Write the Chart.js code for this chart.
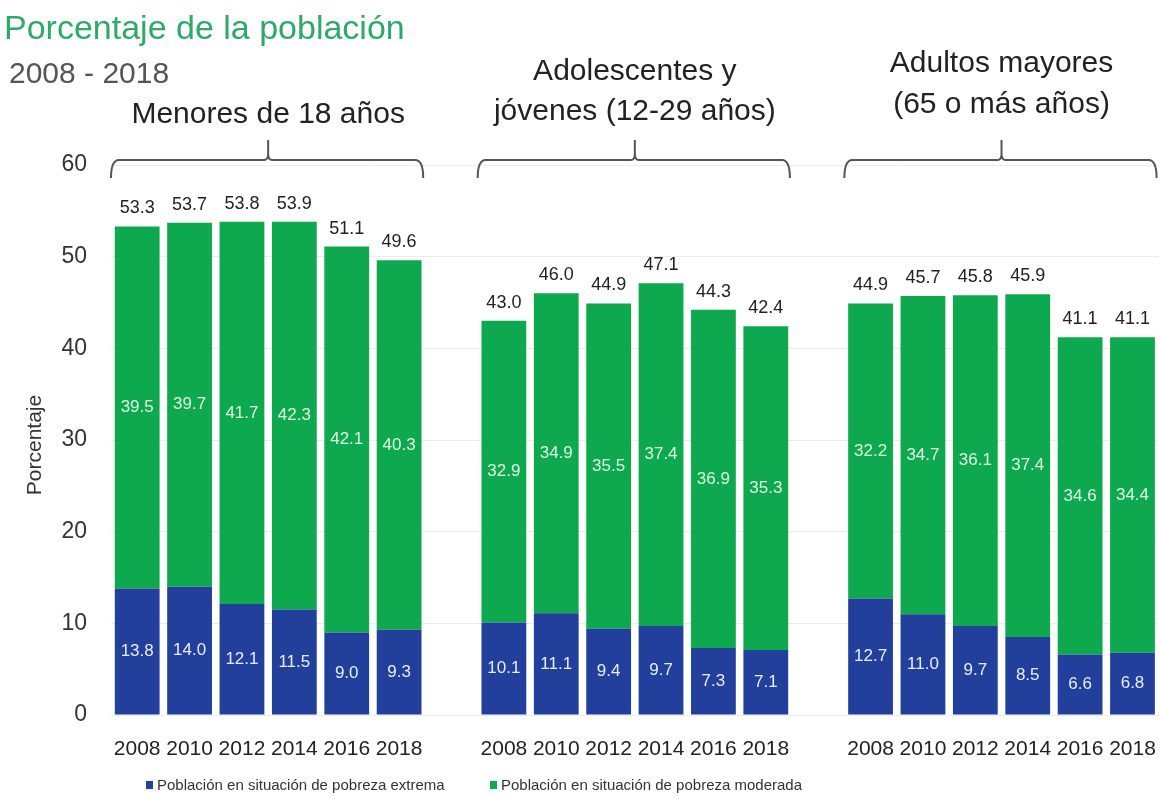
<!DOCTYPE html>
<html>
<head>
<meta charset="utf-8">
<script src="https://cdn.jsdelivr.net/npm/chart.js@4/dist/chart.umd.min.js"></script>
<style>
  html, body { margin: 0; padding: 0; background: #fff; overflow: hidden; }
  #wrap { width: 1170px; height: 799px; }
</style>
</head>
<body>
<div id="wrap"><canvas id="grafica" width="1170" height="799"></canvas></div>
<script>
// Datos
const anios = ['2008', '2010', '2012', '2014', '2016', '2018', '',
               '2008', '2010', '2012', '2014', '2016', '2018', '',
               '2008', '2010', '2012', '2014', '2016', '2018'];
const pobrezaExtrema = [13.8, 14.0, 12.1, 11.5, 9.0, 9.3, null,
                        10.1, 11.1, 9.4, 9.7, 7.3, 7.1, null,
                        12.7, 11.0, 9.7, 8.5, 6.6, 6.8];
const pobrezaModerada = [39.5, 39.7, 41.7, 42.3, 42.1, 40.3, null,
                         32.9, 34.9, 35.5, 37.4, 36.9, 35.3, null,
                         32.2, 34.7, 36.1, 37.4, 34.6, 34.4];
const totales = [53.3, 53.7, 53.8, 53.9, 51.1, 49.6, null,
                 43.0, 46.0, 44.9, 47.1, 44.3, 42.4, null,
                 44.9, 45.7, 45.8, 45.9, 41.1, 41.1];
const grupos = [
    { lineas: ['Menores de 18 años'], desde: 0, hasta: 5 },
    { lineas: ['Adolescentes y', 'jóvenes (12-29 años)'], desde: 7, hasta: 12 },
    { lineas: ['Adultos mayores', '(65 o más años)'], desde: 14, hasta: 19 }
];
const ticksY = [0, 10, 20, 30, 40, 50, 60];
const leyenda = ['Población en situación de pobreza extrema', 'Población en situación de pobreza moderada'];

const AZUL = '#22409b';
const VERDE = '#0ea84f';
const FUENTE = '"Liberation Sans", Arial, sans-serif';

function fmt(v) { return v.toFixed(1); }

function llave(ctx, x1, x2, xm, y) {
    ctx.beginPath();
    ctx.moveTo(x1, y + 18);
    ctx.quadraticCurveTo(x1, y, x1 + 8, y);
    ctx.lineTo(xm - 4, y);
    ctx.quadraticCurveTo(xm, y, xm, y - 6);
    ctx.lineTo(xm, y - 20);
    ctx.moveTo(xm, y - 6);
    ctx.quadraticCurveTo(xm, y, xm + 4, y);
    ctx.lineTo(x2 - 8, y);
    ctx.quadraticCurveTo(x2, y, x2, y + 18);
    ctx.stroke();
}

const anotaciones = {
    id: 'anotaciones',
    afterDraw(chart) {
        const ctx = chart.ctx;
        const x = chart.scales.x;
        const paso = x.getPixelForValue(1) - x.getPixelForValue(0);
        ctx.save();

        // Titulo
        ctx.textAlign = 'left';
        ctx.textBaseline = 'alphabetic';
        ctx.fillStyle = '#2fa86a';
        ctx.font = '34px ' + FUENTE;
        ctx.fillText('Porcentaje de la población', 4, 39);
        ctx.fillStyle = '#555';
        ctx.font = '30px ' + FUENTE;
        ctx.fillText('2008 - 2018', 9, 83);

        // Grupos: llaves y nombres
        const baseLineas = [[123], [80, 120], [72, 113]];
        grupos.forEach((g, i) => {
            const x1 = x.getPixelForValue(g.desde) - paso * 0.5;
            const x2 = x.getPixelForValue(g.hasta) + paso * 0.46;
            const xm = (x.getPixelForValue(g.desde) + x.getPixelForValue(g.hasta)) / 2;
            ctx.strokeStyle = '#555';
            ctx.lineWidth = 2;
            llave(ctx, x1, x2, xm, 160);
            ctx.fillStyle = '#222';
            ctx.font = '30px ' + FUENTE;
            ctx.textAlign = 'center';
            g.lineas.forEach((t, j) => ctx.fillText(t, xm, baseLineas[i][j]));
        });

        // Etiquetas de valores
        const metaA = chart.getDatasetMeta(0);
        const metaV = chart.getDatasetMeta(1);
        ctx.textAlign = 'center';
        ctx.textBaseline = 'middle';
        ctx.font = '17px ' + FUENTE;
        metaA.data.forEach((bar, i) => {
            if (pobrezaExtrema[i] == null) return;
            ctx.fillStyle = '#e8ecff';
            ctx.fillText(fmt(pobrezaExtrema[i]), bar.x, (bar.y + bar.base) / 2);
        });
        metaV.data.forEach((bar, i) => {
            if (pobrezaModerada[i] == null) return;
            ctx.fillStyle = '#dcf7e4';
            ctx.fillText(fmt(pobrezaModerada[i]), bar.x, (bar.y + bar.base) / 2);
            ctx.fillStyle = '#222';
            ctx.font = '18px ' + FUENTE;
            ctx.textBaseline = 'alphabetic';
            ctx.fillText(fmt(totales[i]), bar.x, bar.y - 13);
            ctx.font = '17px ' + FUENTE;
            ctx.textBaseline = 'middle';
        });

        // Titulo del eje Y
        ctx.save();
        ctx.translate(35, 445);
        ctx.rotate(-Math.PI / 2);
        ctx.fillStyle = '#333';
        ctx.font = '21px ' + FUENTE;
        ctx.fillText('Porcentaje', 0, 0);
        ctx.restore();

        // Leyenda
        ctx.textAlign = 'left';
        ctx.textBaseline = 'middle';
        ctx.font = '15px ' + FUENTE;
        const posLeyenda = [146, 490];
        [AZUL, VERDE].forEach((c, i) => {
            ctx.fillStyle = c;
            ctx.fillRect(posLeyenda[i], 781, 7, 8);
            ctx.fillStyle = '#333';
            ctx.fillText(leyenda[i], posLeyenda[i] + 11, 786);
        });
        ctx.restore();
    }
};

new Chart(document.getElementById('grafica'), {
    type: 'bar',
    data: {
        labels: anios,
        datasets: [
            { label: leyenda[0], data: pobrezaExtrema, backgroundColor: AZUL },
            { label: leyenda[1], data: pobrezaModerada, backgroundColor: VERDE }
        ]
    },
    options: {
        responsive: false,
        animation: false,
        barPercentage: 0.855,
        categoryPercentage: 1.0,
        layout: { padding: { top: 165, right: 6, bottom: 44, left: 0 } },
        plugins: {
            legend: { display: false },
            tooltip: { enabled: false }
        },
        scales: {
            x: {
                stacked: true,
                grid: { display: false },
                border: { display: false },
                afterFit: s => { s.height = 40; },
                ticks: {
                    autoSkip: false,
                    maxRotation: 0,
                    padding: 14,
                    color: '#222',
                    font: { family: FUENTE, size: 21 }
                }
            },
            y: {
                stacked: true,
                min: 0,
                max: 60,
                afterFit: s => { s.width = 111; },
                afterBuildTicks: s => { s.ticks = ticksY.map(v => ({ value: v })); },
                grid: { color: '#ececec', drawTicks: false },
                border: { display: false },
                ticks: {
                    padding: 24,
                    color: '#333',
                    font: { family: FUENTE, size: 23 }
                }
            }
        }
    },
    plugins: [anotaciones]
});
</script>
</body>
</html>
